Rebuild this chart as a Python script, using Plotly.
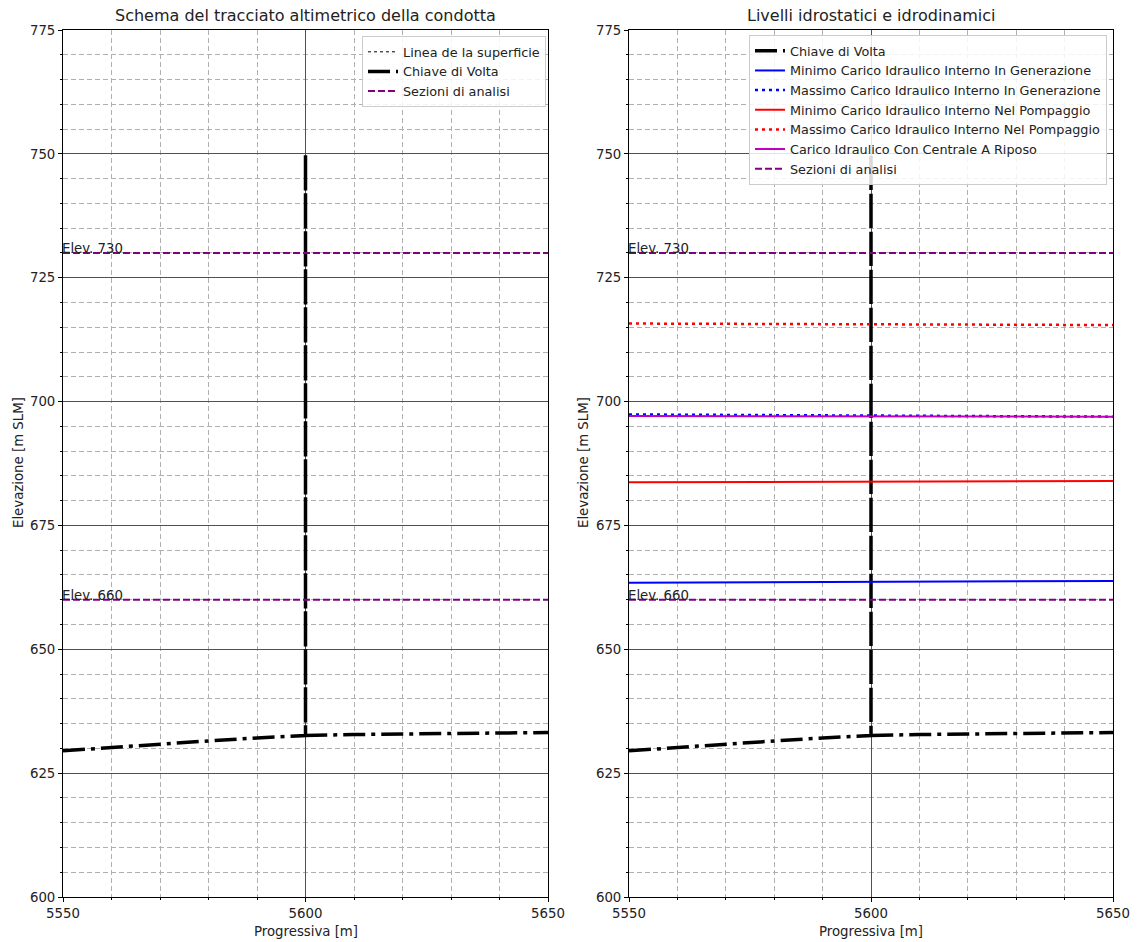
import plotly.graph_objects as go

# ---------------- data ----------------
chiave_x = [5550, 5560, 5570, 5580, 5590, 5600, 5600, 5600, 5610, 5620, 5630, 5640, 5650]
chiave_y = [629.5, 630.2, 630.9, 631.5, 632.1, 632.6, 750.0, 632.6, 632.8, 632.9, 633.0, 633.1, 633.2]

x_ends = [5550, 5650]
min_gen = [663.45, 663.8]
max_gen = [697.4, 696.95]
min_pomp = [683.7, 683.95]
max_pomp = [715.75, 715.45]
riposo = [697.1, 696.95]

sezioni_elev = [730, 660]
sezioni_labels = ["Elev. 730", "Elev. 660"]

x_range = [5550, 5650]
y_range = [600, 775]

titles = ["Schema del tracciato altimetrico della condotta", "Livelli idrostatici e idrodinamici"]
xlabel = "Progressiva [m]"
ylabel = "Elevazione [m SLM]"

# ---------------- figure ----------------
W, H = 1143, 942
FONT = "DejaVu Sans"
FS = 13.3
fig = go.Figure()

chiave_dash = "22px,6px,4px,6px"
purple = "#800080"

def sez_xy():
    xs, ys = [], []
    for e in sezioni_elev:
        xs += [x_ends[0], x_ends[1], None]
        ys += [e, e, None]
    return xs, ys

# left panel
fig.add_trace(go.Scatter(x=[None], y=[None], mode="lines", name="Linea de la superficie",
                         line=dict(color="black", width=1, dash="dot"),
                         xaxis="x", yaxis="y", legend="legend"))
fig.add_trace(go.Scatter(x=chiave_x, y=chiave_y, mode="lines", name="Chiave di Volta",
                         line=dict(color="black", width=3.5, dash=chiave_dash),
                         xaxis="x", yaxis="y", legend="legend"))
sx, sy = sez_xy()
fig.add_trace(go.Scatter(x=sx, y=sy, mode="lines", name="Sezioni di analisi",
                         line=dict(color=purple, width=2, dash="7px,3px"),
                         xaxis="x", yaxis="y", legend="legend"))

# right panel
fig.add_trace(go.Scatter(x=chiave_x, y=chiave_y, mode="lines", name="Chiave di Volta",
                         line=dict(color="black", width=3.5, dash=chiave_dash),
                         xaxis="x2", yaxis="y2", legend="legend2"))
fig.add_trace(go.Scatter(x=x_ends, y=min_gen, mode="lines",
                         name="Minimo Carico Idraulico Interno In Generazione",
                         line=dict(color="#0000ff", width=2),
                         xaxis="x2", yaxis="y2", legend="legend2"))
fig.add_trace(go.Scatter(x=x_ends, y=max_gen, mode="lines",
                         name="Massimo Carico Idraulico Interno In Generazione",
                         line=dict(color="#0000ff", width=2.5, dash="3px,4px"),
                         xaxis="x2", yaxis="y2", legend="legend2"))
fig.add_trace(go.Scatter(x=x_ends, y=min_pomp, mode="lines",
                         name="Minimo Carico Idraulico Interno Nel Pompaggio",
                         line=dict(color="#ff0000", width=2),
                         xaxis="x2", yaxis="y2", legend="legend2"))
fig.add_trace(go.Scatter(x=x_ends, y=max_pomp, mode="lines",
                         name="Massimo Carico Idraulico Interno Nel Pompaggio",
                         line=dict(color="#ff0000", width=2.5, dash="3px,4px"),
                         xaxis="x2", yaxis="y2", legend="legend2"))
fig.add_trace(go.Scatter(x=x_ends, y=riposo, mode="lines",
                         name="Carico Idraulico Con Centrale A Riposo",
                         line=dict(color="#bf00bf", width=2),
                         xaxis="x2", yaxis="y2", legend="legend2"))
fig.add_trace(go.Scatter(x=sx, y=sy, mode="lines", name="Sezioni di analisi",
                         line=dict(color=purple, width=2, dash="7px,3px"),
                         xaxis="x2", yaxis="y2", legend="legend2"))

# domains
def px_x(p):
    return p / W

def px_y(p):
    return 1 - p / H

dom_y = [px_y(897), px_y(30)]
dom_x1 = [px_x(63), px_x(548)]
dom_x2 = [px_x(629), px_x(1113)]

tickfont = dict(family=FONT, size=FS, color="#222")

def xaxis(dom, anchor):
    return dict(domain=dom, anchor=anchor, range=x_range, dtick=50, tick0=5550,
                automargin=False,
                showline=True, linecolor="black", linewidth=1, mirror=True,
                ticks="outside", ticklen=4, tickcolor="black", tickfont=tickfont,
                showgrid=True, gridcolor="#505050", gridwidth=1, zeroline=False,
                minor=dict(dtick=10, tick0=5550, showgrid=True, gridcolor="#b0b0b0",
                           griddash="5px,3px", gridwidth=1, ticks="outside",
                           ticklen=2, tickcolor="black"))

def yaxis(anchor):
    return dict(domain=dom_y, anchor=anchor, range=y_range, dtick=25, tick0=600,
                automargin=False,
                showline=True, linecolor="black", linewidth=1, mirror=True,
                ticks="outside", ticklen=4, tickcolor="black", tickfont=tickfont,
                showgrid=True, gridcolor="#505050", gridwidth=1, zeroline=False,
                minor=dict(dtick=5, tick0=600, showgrid=True, gridcolor="#b0b0b0",
                           griddash="5px,3px", gridwidth=1, ticks="outside",
                           ticklen=2, tickcolor="black"))

legend_common = dict(bgcolor="rgba(255,255,255,0.85)", bordercolor="#cccccc", borderwidth=1,
                     font=dict(family=FONT, size=FS - 0.5, color="#222"),
                     xanchor="right", yanchor="top", tracegroupgap=0, itemwidth=30)

annotations = []
centers = [(63 + 548) / 2, (629 + 1113) / 2]
ylab_x = [18, 583]
for i, t in enumerate(titles):
    annotations.append(dict(text=t, x=px_x(centers[i]), y=px_y(16), xref="paper", yref="paper",
                            showarrow=False, xanchor="center", yanchor="middle",
                            font=dict(family=FONT, size=16, color="#222")))
    annotations.append(dict(text=xlabel, x=px_x(centers[i]), y=px_y(931), xref="paper", yref="paper",
                            showarrow=False, xanchor="center", yanchor="middle",
                            font=dict(family=FONT, size=FS, color="#222")))
    annotations.append(dict(text=ylabel, x=px_x(ylab_x[i]), y=px_y(463), xref="paper", yref="paper",
                            showarrow=False, xanchor="center", yanchor="middle", textangle=-90,
                            font=dict(family=FONT, size=FS, color="#222")))
for ax in ["x", "x2"]:
    ay = "y" if ax == "x" else "y2"
    for e, lab in zip(sezioni_elev, sezioni_labels):
        annotations.append(dict(text=lab, x=x_range[0], y=e, xref=ax, yref=ay, showarrow=False,
                                xanchor="left", yanchor="bottom", yshift=-5, xshift=-3,
                                font=dict(family=FONT, size=FS, color="#222")))

fig.update_layout(
    width=W, height=H, margin=dict(l=0, r=0, t=0, b=0, autoexpand=False),
    paper_bgcolor="white", plot_bgcolor="white",
    xaxis=xaxis(dom_x1, "y"), yaxis=yaxis("x"),
    xaxis2=xaxis(dom_x2, "y2"), yaxis2=yaxis("x2"),
    legend=dict(x=px_x(546), y=px_y(36), **legend_common),
    legend2=dict(x=px_x(1107), y=px_y(35), **legend_common),
    annotations=annotations, showlegend=True,
)

fig.write_html("out.html")
